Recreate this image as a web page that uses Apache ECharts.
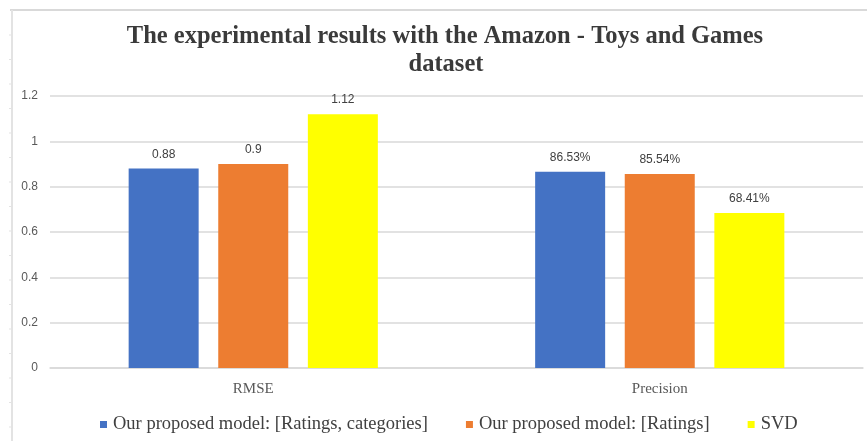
<!DOCTYPE html>
<html><head><meta charset="utf-8">
<script src="https://cdn.jsdelivr.net/npm/echarts@6/dist/echarts.min.js"></script>
<style>html,body{margin:0;padding:0;background:#fff}#c{width:867px;height:441px}</style>
</head><body><div id="c"></div>
<script>
const categories = ['RMSE', 'Precision'];
const seriesNames = ['Our proposed model: [Ratings, categories]', 'Our proposed model: [Ratings]', 'SVD'];
const ratingsCategories = [0.88, 0.8653];
const ratingsOnly = [0.90, 0.8554];
const svd = [1.12, 0.6841];
const yTicks = [0, 0.2, 0.4, 0.6, 0.8, 1, 1.2];
const colors = ['#4472C4', '#ED7D31', '#FFFF00'];

const chart = echarts.init(document.getElementById('c'));
function fmt(p) {
  return p.dataIndex === 1 ? (p.value * 100).toFixed(2) + '%' : String(p.value);
}
const graphics = [
  {type:'line', shape:{x1:10,y1:10,x2:867,y2:10}, style:{stroke:'#D9D9D9', lineWidth:2}},
  {type:'line', shape:{x1:12,y1:10,x2:12,y2:441}, style:{stroke:'#E3E3E3', lineWidth:2}}
];
for (let y = 35; y < 441; y += 24.5) {
  graphics.push({type:'line', shape:{x1:9,y1:y,x2:11,y2:y}, style:{stroke:'#E3E3E3', lineWidth:1}});
}
const mk = (name, data, i) => ({
  name, type:'bar', data, barWidth:70, barGap:'28%',
  itemStyle:{color:colors[i]},
  label:{show:true, position:'top', distance:8, formatter:fmt, color:'#404040',
         fontFamily:'Liberation Sans, Arial, sans-serif', fontSize:12}
});
const titleStyle = {fontFamily:'Liberation Serif, Times New Roman, serif', fontWeight:'bold', fontSize:24.5, color:'#3a3a3a'};
chart.setOption({
  animation:false,
  title:[
    {text:'The experimental results with the Amazon - Toys and Games', left:440, textAlign:'center', top:19, textStyle:titleStyle},
    {text:'dataset', left:441, textAlign:'center', top:47, textStyle:titleStyle}
  ],
  legend:{top:410, left:95, itemWidth:7, itemHeight:7, itemGap:38, icon:'rect',
    textStyle:{fontFamily:'Liberation Serif, Times New Roman, serif', fontSize:18.5, color:'#404040', padding:[0,0,0,1]},
    data:seriesNames},
  grid:{left:50, right:4, top:96, bottom:73},
  xAxis:{type:'category', data:categories,
    axisLine:{lineStyle:{color:'#D9D9D9', width:1.5}}, axisTick:{show:false},
    axisLabel:{margin:14, fontFamily:'Liberation Serif, Times New Roman, serif', fontSize:15, color:'#595959'}},
  yAxis:{type:'value', min:0, max:1.2, interval:0.2,
    axisLine:{show:false}, axisTick:{show:false},
    splitLine:{lineStyle:{color:'#D9D9D9', width:1.5}},
    axisLabel:{margin:12, fontFamily:'Liberation Sans, Arial, sans-serif', fontSize:12, color:'#595959',
      formatter:v => { const t = yTicks.find(x => Math.abs(x - v) < 1e-9); return String(t === undefined ? v : t); }}},
  graphic:graphics,
  series:[mk(seriesNames[0], ratingsCategories, 0), mk(seriesNames[1], ratingsOnly, 1), mk(seriesNames[2], svd, 2)]
});
</script></body></html>
